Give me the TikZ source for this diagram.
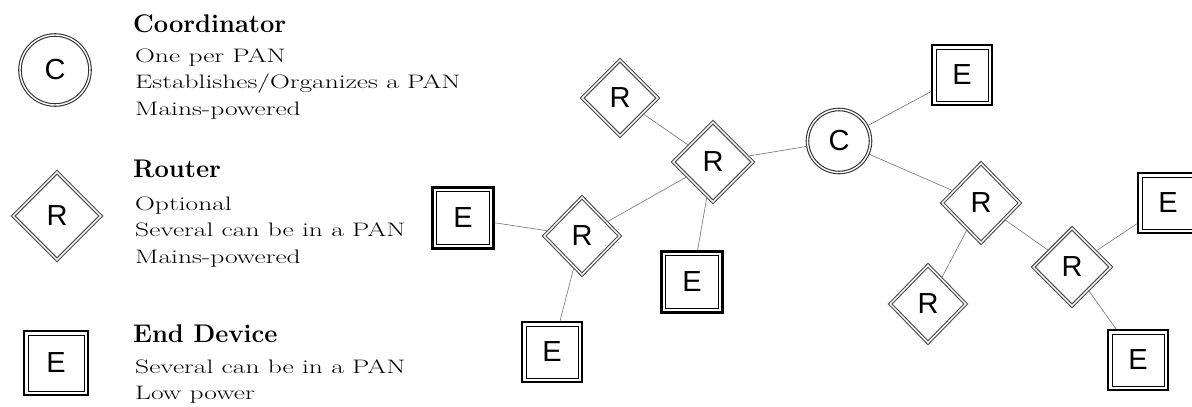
\documentclass[tikz,border=0pt]{standalone}
\usepackage{fontspec}
\usepackage{graphicx}
\newfontfamily\arialf{Liberation Sans}
\usetikzlibrary{shapes.geometric}
\tikzset{
  dev/.style={fill=white, inner sep=0pt, font=\arialf\fontsize{29}{29}\selectfont},
  dbl/.style={draw=black!80, line width=1.1pt, double=white, double distance=1.4pt},
  coordnode/.style={dev, dbl, circle},
  router/.style={dev, dbl, diamond, aspect=1, draw=black!70},
  enddev/.style={dev, rectangle, draw=black, line width=2.3pt,
    path picture={\draw[black, line width=0.9pt]
      ([shift={(4pt,-4pt)}]path picture bounding box.north west) rectangle
      ([shift={(-4pt,4pt)}]path picture bounding box.south east);}},
  link/.style={draw=black!55, line width=0.6pt},
  ttl/.style={anchor=base west, inner sep=0pt, font=\bfseries\fontsize{25.5}{30}\selectfont},
  body/.style={anchor=base west, inner sep=0pt, text=black, font=\fontsize{19.5}{26.5}\selectfont},
}
\newcommand\bodytext[1]{\scalebox{1.41}[1]{\begin{tabular}[t]{@{}l@{}}#1\end{tabular}}}
\begin{document}
\begin{tikzpicture}[x=1pt, y=-1pt]
\fill[white] (0,0) rectangle (1192,407);
\useasboundingbox (0,0) rectangle (1192,407);

% legend
\node[coordnode, minimum size=70pt] (lc) at (55,70) {C};
\node[router, minimum width=88pt, minimum height=88pt] (lr) at (57,216) {R};
\node[enddev, minimum size=64pt] (le) at (56,363) {E};

\node[ttl] (tc) at (133,32) {Coordinator};
\node[body] (bc) at (135,62) {\bodytext{One per PAN\\Establishes/Organizes a PAN\\Mains-powered}};
\node[ttl] (tr) at (133,177) {Router};
\node[body] (br) at (135,210) {\bodytext{Optional\\Several can be in a PAN\\Mains-powered}};
\node[ttl] (te) at (133,342) {End Device};
\node[body] (be) at (135,373) {\bodytext{Several can be in a PAN\\Low power}};

% network
\node[router, minimum width=76pt, minimum height=76pt] (rt) at (620,98) {R};
\node[router, minimum width=80pt, minimum height=80pt] (rm) at (713,162) {R};
\node[router, minimum width=76pt, minimum height=78pt] (rl) at (582,236) {R};
\node[enddev, minimum size=61pt] (el) at (463,218) {E};
\node[enddev, minimum size=60pt] (eb) at (552,352) {E};
\node[enddev, minimum size=61pt] (em) at (692,282) {E};
\node[coordnode, minimum size=63pt] (c) at (839,141) {C};
\node[enddev, minimum size=60pt] (et) at (962,75) {E};
\node[router, minimum width=78pt, minimum height=80pt] (r1) at (981,203) {R};
\node[router, minimum width=76pt, minimum height=78pt] (rb) at (928,304) {R};
\node[router, minimum width=78pt, minimum height=78pt] (r2) at (1072,267) {R};
\node[enddev, minimum size=60pt] (er) at (1168,203) {E};
\node[enddev, minimum size=60pt] (ebr) at (1138,360) {E};

\draw[link] (rt) -- (rm);
\draw[link] (rm) -- (c);
\draw[link] (rm) -- (rl);
\draw[link] (rm) -- (em);
\draw[link] (rl) -- (el);
\draw[link] (rl) -- (eb);
\draw[link] (c) -- (et);
\draw[link] (c) -- (r1);
\draw[link] (r1) -- (rb);
\draw[link] (r1) -- (r2);
\draw[link] (r2) -- (er);
\draw[link] (r2) -- (ebr);
\end{tikzpicture}
\end{document}
